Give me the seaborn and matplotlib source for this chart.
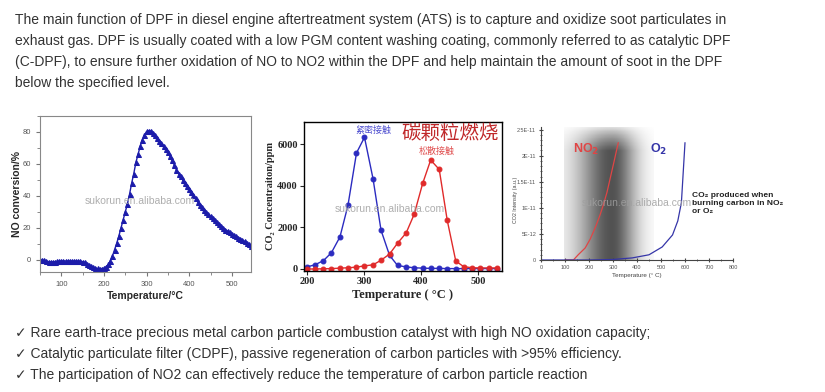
import numpy as np
import seaborn as sns
import matplotlib.pyplot as plt
from matplotlib.ticker import MultipleLocator

sns.set_style("white")
plt.rcParams['font.family'] = ['Liberation Sans', 'DejaVu Sans']

W, H = 825, 392

# --- text ---
para_lines = [
    "The main function of DPF in diesel engine aftertreatment system (ATS) is to capture and oxidize soot particulates in",
    "exhaust gas. DPF is usually coated with a low PGM content washing coating, commonly referred to as catalytic DPF",
    "(C-DPF), to ensure further oxidation of NO to NO2 within the DPF and help maintain the amount of soot in the DPF",
    "below the specified level.",
]
bullet_lines = [
    "✓ Rare earth-trace precious metal carbon particle combustion catalyst with high NO oxidation capacity;",
    "✓ Catalytic particulate filter (CDPF), passive regeneration of carbon particles with >95% efficiency.",
    "✓ The participation of NO2 can effectively reduce the temperature of carbon particle reaction",
]
watermark = "sukorun.en.alibaba.com"

# --- chart 1: NO conversion ---
no_temp = list(range(50, 550, 5))
no_conv = [0, 0, -0.3, -0.6, -1, -1.2, -1.2, -1, -0.8, -0.7,
           -0.6, -0.6, -0.6, -0.6, -0.6, -0.6, -0.6, -0.6, -0.7, -0.8,
           -1, -1.5, -2.3, -3, -3.8, -4.5, -5, -5.3, -5.5, -5.4,
           -5.1, -4.2, -2.8, -0.5, 2.5, 6.5, 10.5, 15, 20, 25,
           30, 35, 41, 48, 54, 61, 66, 71, 75, 78,
           80.4, 80.8, 80.5, 79.5, 78, 76, 74.5, 73, 71, 69.5,
           67.5, 65, 62.5, 59.5, 56.5, 54, 52.5, 50, 48, 46.5,
           44.5, 42.5, 40.5, 38.5, 36.5, 34.5, 33, 31.3, 29.9, 28.5,
           27.2, 26, 24.8, 23.5, 22.2, 21, 20, 19, 18.2, 17.3,
           16.3, 15.5, 14.7, 14, 13.3, 12.5, 11.7, 10.9, 10, 9]

# --- chart 2: CO2 concentration ---
co2_temp = [200, 214, 229, 243, 258, 272, 287, 301, 316, 330, 345, 359,
            374, 388, 403, 417, 432, 446, 461, 475, 490, 504, 519, 533]
co2_tight = [100, 200, 400, 780, 1540, 3050, 5570, 6320, 4330, 1860, 650, 170,
             100, 60, 40, 30, 30, 20, 20, 20, 20, 20, 20, 20]
co2_loose = [0, 0, 10, 20, 40, 60, 90, 150, 200, 420, 720, 1240,
             1730, 2620, 4110, 5230, 4780, 2340, 380, 110, 60, 50, 50, 50]

# --- chart 3: CO2 intensity ---
no2_temp = [100, 135, 155, 184, 205, 226, 245, 260, 275, 289, 305, 322]
no2_int = [0, 0, 1.0e-12, 2.3e-12, 4.0e-12, 6.2e-12, 8.5e-12, 1.06e-11,
           1.3e-11, 1.58e-11, 1.9e-11, 2.25e-11]
o2_temp = [0, 100, 200, 300, 380, 450, 505, 548, 570, 585, 600]
o2_int = [0, 0, 0, 1e-13, 4e-13, 1.0e-12, 2.5e-12, 4.8e-12, 7.5e-12, 1.1e-11, 2.25e-11]
y3_ticks = [0, 5e-12, 1e-11, 1.5e-11, 2e-11, 2.5e-11]
y3_labels = ["0", "5E-12", "1E-11", "1.5E-11", "2E-11", "2.5E-11"]

fig = plt.figure(figsize=(W / 100, H / 100), dpi=100)


def px_axes(l, t, r, b):
    return fig.add_axes([l / W, 1 - b / H, (r - l) / W, (b - t) / H])


for i, line in enumerate(para_lines):
    fig.text(15 / W, 1 - (20 + 21 * i) / H, line, va='center', ha='left',
             fontsize=10, color='#333333')
for i, line in enumerate(bullet_lines):
    fig.text(15 / W, 1 - (333 + 21 * i) / H, line, va='center', ha='left',
             fontsize=10, color='#333333')

# chart 1
ax1 = px_axes(40, 116, 251, 272)
sns.lineplot(x=no_temp, y=no_conv, ax=ax1, color='#1c1caa', marker='^',
             markersize=3.6, markeredgecolor='#1c1caa', linewidth=1)
ax1.set_xlim(50, 545)
ax1.set_ylim(-7.5, 90)
ax1.xaxis.set_major_locator(MultipleLocator(100))
ax1.xaxis.set_minor_locator(MultipleLocator(50))
ax1.yaxis.set_major_locator(MultipleLocator(20))
ax1.yaxis.set_minor_locator(MultipleLocator(10))
ax1.tick_params(which='both', direction='out', bottom=True, left=True,
                labelsize=5.5, labelcolor='#555555', color='#777777')
ax1.tick_params(which='major', length=3)
ax1.tick_params(which='minor', length=2)
for s in ax1.spines.values():
    s.set_color('#888888')
    s.set_linewidth(0.8)
ax1.set_xlabel("Temperature/°C", fontsize=7.5, fontweight='bold')
ax1.set_ylabel("NO conversion/%", fontsize=7.5, fontweight='bold')
ax1.xaxis.set_label_coords(0.5, -0.12)
ax1.yaxis.set_label_coords(-0.085, 0.5)

# chart 2
serif = ['Liberation Serif', 'DejaVu Serif']
ax2 = px_axes(304, 122, 502, 271)
sns.lineplot(x=co2_temp, y=co2_tight, ax=ax2, color='#2b2bc0', marker='o',
             markersize=3.5, markeredgecolor='#2b2bc0', linewidth=1)
sns.lineplot(x=co2_temp, y=co2_loose, ax=ax2, color='#e02a2a', marker='o',
             markersize=3.5, markeredgecolor='#e02a2a', linewidth=1)
ax2.set_xlim(195, 542)
ax2.set_ylim(-96, 7056)
ax2.set_xticks([200, 300, 400, 500])
ax2.set_yticks([0, 2000, 4000, 6000])
ax2.tick_params(direction='out', length=3, bottom=True, left=True, labelsize=7.5, pad=1.5)
for lab in ax2.get_xticklabels() + ax2.get_yticklabels():
    lab.set_family(serif)
    lab.set_fontweight('bold')
for s in ax2.spines.values():
    s.set_color('black')
    s.set_linewidth(1)
ax2.set_xlabel("Temperature ( °C )", fontsize=9, fontweight='bold', family=serif)
ax2.set_ylabel("CO₂ Concentraiton/ppm", fontsize=7.5, fontweight='bold', family=serif)
ax2.xaxis.set_label_coords(0.5, -0.12)
ax2.yaxis.set_label_coords(-0.148, 0.5)
ax2.text(316, 6670, "紧密接触", color='#5050d0', fontsize=6.5, ha='center', va='center',
         family=['Noto Sans CJK SC', 'DejaVu Sans'])
ax2.text(428, 5660, "松散接触", color='#e05050', fontsize=6.5, ha='center', va='center',
         family=['Noto Sans CJK SC', 'DejaVu Sans'])
ax2.text(452, 6520, "碳颗粒燃烧", color='#c0282a', fontsize=14, ha='center', va='center',
         family=['Noto Sans CJK SC', 'DejaVu Sans'], clip_on=False)

# chart 3
ax3 = px_axes(541, 127, 733, 260)
gx = np.linspace(95, 470, 300)
gy = np.linspace(0, 2.6e-11, 100)
sig = np.where(gx < 295, 100, 70)
ax_prof = np.exp(-((gx - 295) / sig) ** 2 / 2)
ay_prof = np.clip((2.6e-11 - gy) / 5e-12, 0, 1) ** 0.7
alpha = 0.68 * np.outer(ay_prof, ax_prof)
img = np.zeros((len(gy), len(gx), 4))
img[..., 3] = alpha
ax3.imshow(img, extent=(95, 470, 0, 2.6e-11), origin='lower', aspect='auto', zorder=0)
sns.lineplot(x=no2_temp, y=no2_int, ax=ax3, color='#e04545', linewidth=0.9)
sns.lineplot(x=o2_temp, y=o2_int, ax=ax3, color='#3535a8', linewidth=0.9)
ax3.set_xlim(0, 800)
ax3.set_ylim(0, 2.55e-11)
ax3.xaxis.set_major_locator(MultipleLocator(100))
ax3.xaxis.set_minor_locator(MultipleLocator(50))
ax3.set_yticks(y3_ticks)
ax3.set_yticklabels(y3_labels)
ax3.yaxis.set_minor_locator(MultipleLocator(1e-12))
ax3.tick_params(which='both', direction='inout', bottom=True, left=True,
                labelsize=4, labelcolor='#555555', color='#444444', pad=2)
ax3.tick_params(which='major', length=3)
ax3.tick_params(which='minor', length=1.5)
sns.despine(ax=ax3)
for s in ax3.spines.values():
    s.set_color('#444444')
    s.set_linewidth(0.8)
ax3.set_xlabel("Temperature (° C)", fontsize=4.5, color='#444444')
ax3.set_ylabel("CO2 Intensity (a.u.)", fontsize=3.8, color='#444444')
ax3.xaxis.set_label_coords(0.5, -0.1)
ax3.yaxis.set_label_coords(-0.118, 0.45)
ax3.text(190, 2.12e-11, "NO$_\\mathbf{2}$", color='#e04545', fontsize=9, fontweight='bold',
         ha='center', va='center')
ax3.text(490, 2.12e-11, "O$_\\mathbf{2}$", color='#3535a8', fontsize=9, fontweight='bold',
         ha='center', va='center')
ax3.text(628, 1.3e-11, "CO₂ produced when\nburning carbon in NO₂\nor O₂", color='#222222',
         fontsize=6, fontweight='bold', ha='left', va='top', linespacing=1.15, clip_on=False)

# watermarks
for (wx, wy) in [(140, 201), (390, 209), (637, 203)]:
    fig.text(wx / W, 1 - wy / H, watermark, fontsize=7.5, color='#a0a0a0',
             alpha=0.85, ha='center', va='center')

fig.savefig("out.png", dpi=100)
